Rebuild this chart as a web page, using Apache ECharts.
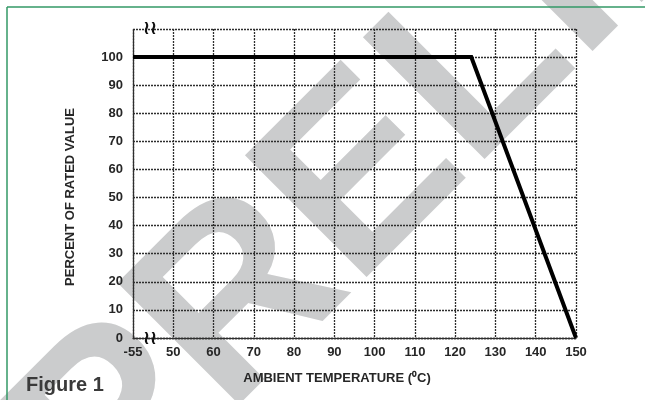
<!DOCTYPE html>
<html><head><meta charset="utf-8">
<script src="https://cdn.jsdelivr.net/npm/echarts@6/dist/echarts.min.js"></script>
<style>html,body{margin:0;padding:0;background:#fff}#c{width:645px;height:400px}</style>
</head><body><div id="c"></div>
<script>
// Axis ticks (the first x tick is drawn at a broken-axis position: -55 sits where 40 would be)
const xTickValues = [40, 50, 60, 70, 80, 90, 100, 110, 120, 130, 140, 150];
const xTickLabels = ['-55', '50', '60', '70', '80', '90', '100', '110', '120', '130', '140', '150'];
const yTickValues = [0, 10, 20, 30, 40, 50, 60, 70, 80, 90, 100];
// Derating curve
const ambientTempC = [-55, 124, 150];
const percentRated = [100, 100, 0];
// Axis break: -55 °C is plotted at the slot of 40
const breakPosition = { '-55': 40 };

const xTitle = 'AMBIENT TEMPERATURE (\u2070C)';
const yTitle = 'PERCENT OF RATED VALUE';
const figTitle = 'Figure 1';
const watermark = 'PRELIMINARY';

const chart = echarts.init(document.getElementById('c'), null, { renderer: 'canvas' });
const gridCol = '#2e2e2e';
const dash = { color: gridCol, type: [2, 1], width: 1.3 };
const font = '"Liberation Sans", Arial, sans-serif';

const seriesData = ambientTempC.map((t, i) => [
  (String(t) in breakPosition) ? breakPosition[String(t)] : t, percentRated[i]
]);

chart.setOption({
  animation: false,
  backgroundColor: '#fff',
  grid: { left: 133, right: 69, top: 29, bottom: 62, containLabel: false },
  xAxis: {
    type: 'value', min: 40, max: 150, interval: 10,
    axisLine: { show: true, lineStyle: dash },
    axisTick: { show: false },
    splitLine: { show: true, lineStyle: dash },
    axisLabel: {
      margin: 8, color: '#262626', fontSize: 13, fontWeight: 'bold', fontFamily: font,
      formatter: v => { const i = xTickValues.indexOf(v); return i >= 0 ? xTickLabels[i] : ''; }
    }
  },
  yAxis: {
    type: 'value', min: 0, max: 110, interval: 10,
    axisLine: { show: true, lineStyle: dash },
    axisTick: { show: false },
    splitLine: { show: true, lineStyle: dash },
    axisLabel: {
      margin: 10, color: '#262626', fontSize: 13, fontWeight: 'bold', fontFamily: font,
      formatter: v => yTickValues.indexOf(v) >= 0 ? String(v) : ''
    }
  },
  series: [{
    type: 'line', data: seriesData, symbol: 'none', z: 5,
    lineStyle: { color: '#000', width: 4, join: 'miter' }
  }],
  graphic: [
    { type: 'text', z: -100, x: 122, y: 547, rotation: Math.PI / 4,
      style: { text: watermark, x: 0, y: -87, font: 'bold 250px ' + font, fill: '#cbcccd', align: 'left', verticalAlign: 'middle' } },
    { type: 'line', z: 10, shape: { x1: 7, y1: 7, x2: 645, y2: 7 }, style: { stroke: '#339966', lineWidth: 1.5 } },
    { type: 'line', z: 10, shape: { x1: 7, y1: 7, x2: 7, y2: 400 }, style: { stroke: '#339966', lineWidth: 1.5 } },
    { type: 'text', z: 10, x: 26, y: 385,
      style: { text: figTitle, font: 'bold 20px ' + font, fill: '#3a3a3a', align: 'left', verticalAlign: 'middle' } },
    { type: 'text', z: 10, x: 337, y: 378,
      style: { text: xTitle, font: 'bold 13px ' + font, fill: '#262626', align: 'center', verticalAlign: 'middle' } },
    { type: 'text', z: 10, x: 70, y: 197, rotation: Math.PI / 2,
      style: { text: yTitle, font: 'bold 13px ' + font, fill: '#262626', align: 'center', verticalAlign: 'middle' } },
    { type: 'text', z: 10, x: 150, y: 29,
      style: { text: '\u2240\u2240', font: 'bold 19px "DejaVu Sans"', fill: '#111', align: 'center', verticalAlign: 'middle' } },
    { type: 'text', z: 10, x: 150, y: 339,
      style: { text: '\u2240\u2240', font: 'bold 19px "DejaVu Sans"', fill: '#111', align: 'center', verticalAlign: 'middle' } }
  ]
});
</script>
</body></html>
